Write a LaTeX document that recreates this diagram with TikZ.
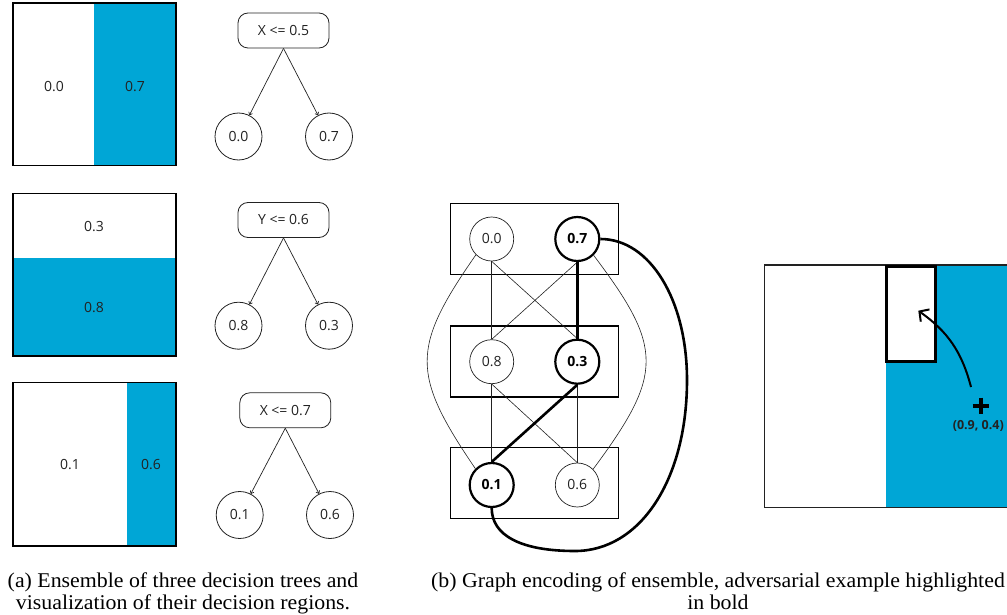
\documentclass[tikz,border=0pt]{standalone}
\usepackage{fontspec}
\setmainfont{Open Sans}
\newfontfamily\capfont[FakeStretch=1.04]{Liberation Serif}
\usetikzlibrary{arrows.meta}
\definecolor{regblue}{HTML}{00A6D6}
\definecolor{ink}{HTML}{222222}

\begin{document}
\begin{tikzpicture}[x=1pt,y=-1pt,
  region/.style={draw=black, line width=1.6pt},
  lbl/.style={font=\fontsize{14}{16}\selectfont, text=ink, inner sep=0pt},
  splitbox/.style={draw=ink, line width=0.8pt, rounded corners=10pt,
    minimum width=91pt, minimum height=35pt, inner sep=0pt,
    font=\fontsize{14}{16}\selectfont, text=ink},
  leaf/.style={circle, draw=ink, line width=0.8pt, minimum size=47pt,
    inner sep=0pt, font=\fontsize{14}{16}\selectfont, text=ink},
  branch/.style={draw=ink, line width=0.7pt, -{To[length=3pt,width=4.5pt]}},
  gnode/.style={circle, draw=ink, line width=0.7pt, minimum size=44pt,
    inner sep=0pt, font=\fontsize{14}{16}\selectfont, text=ink},
  hot/.style={draw=black, line width=2.2pt,
    font=\fontsize{14}{16}\selectfont\bfseries, text=black},
  treegroup/.style={draw=black, line width=1.3pt, minimum width=167.6pt,
    minimum height=71pt, inner sep=0pt},
  edgethin/.style={draw=ink, line width=0.6pt},
  edgebold/.style={draw=black, line width=2.6pt},
  caption/.style={font=\capfont\fontsize{21}{23}\selectfont, anchor=base,
    inner sep=0pt, text=black},
]
\useasboundingbox (0,0) rectangle (1007,615);

% ---------- decision regions of the three trees ----------
\fill[regblue] (94,3.3) rectangle (175.7,165.7);
\draw[region] (12.7,3.3) rectangle (175.7,165.7);
\node[lbl] (r1a) at (54,87) {0.0};
\node[lbl] (r1b) at (135,87) {0.7};

\fill[regblue] (12.7,257.7) rectangle (175.7,355.7);
\draw[region] (12.7,193.3) rectangle (175.7,355.7);
\node[lbl] (r2a) at (94,227) {0.3};
\node[lbl] (r2b) at (94,307.7) {0.8};

\fill[regblue] (127,382.3) rectangle (175.7,545.7);
\draw[region] (12.7,382.3) rectangle (175.7,545.7);
\node[lbl] (r3a) at (70,465) {0.1};
\node[lbl] (r3b) at (151,465) {0.6};

% ---------- the three trees ----------
\node[splitbox] (t1) at (283.5,30.5) {X <= 0.5};
\node[leaf] (t1l) at (238.5,136.5) {0.0};
\node[leaf] (t1r) at (329,136.5) {0.7};
\draw[branch] (t1.south) -- (t1l);
\draw[branch] (t1.south) -- (t1r);

\node[splitbox] (t2) at (283.5,220) {Y <= 0.6};
\node[leaf] (t2l) at (238.5,325.7) {0.8};
\node[leaf] (t2r) at (329,325.7) {0.3};
\draw[branch] (t2.south) -- (t2l);
\draw[branch] (t2.south) -- (t2r);

\node[splitbox] (t3) at (285.3,410.3) {X <= 0.7};
\node[leaf] (t3l) at (239.7,515) {0.1};
\node[leaf] (t3r) at (330,515) {0.6};
\draw[branch] (t3.south) -- (t3l);
\draw[branch] (t3.south) -- (t3r);

% ---------- graph encoding ----------
\node[treegroup] (g1) at (534.5,238.7) {};
\node[treegroup] (g2) at (534.5,361.5) {};
\node[treegroup] (g3) at (534.5,483.3) {};

\node[gnode] (a0) at (491.7,239) {0.0};
\node[gnode,hot] (a7) at (577.3,239) {0.7};
\node[gnode] (b8) at (491.7,361.7) {0.8};
\node[gnode,hot] (b3) at (577.3,361.7) {0.3};
\node[gnode,hot] (c1) at (491.7,485) {0.1};
\node[gnode] (c6) at (577.3,485) {0.6};

\draw[edgethin] (a0.south) -- (b8.north);
\draw[edgethin] (a0.south) -- (b3.north);
\draw[edgethin] (a7.south) -- (b8.north);
\draw[edgethin] (b8.south) -- (c1.north);
\draw[edgethin] (b8.south) -- (c6.north);
\draw[edgethin] (b3.south) -- (c6.north);
\draw[edgethin] (a0.south west) .. controls (411,348) and (411,374) .. (c1.north west);
\draw[edgethin] (a7.south east) .. controls (663.7,348) and (663.7,374) .. (c6.north east);

\draw[edgebold, line width=3.2pt] (a7.south) -- (b3.north);
\draw[edgebold] (b3.south) -- (c1.north);
\draw[edgebold] (a7.east) .. controls (650,239) and (687,300) .. (687,380)
  .. controls (687,480) and (640,551) .. (575,551)
  .. controls (520,551) and (491.7,535) .. (c1.south);

% ---------- adversarial example in the input space ----------
\begin{scope}
\clip (0,0) rectangle (1007,615);
\fill[regblue] (886,265) rectangle (1015,507.7);
\draw[draw=ink, line width=1.5pt] (764.3,265) rectangle (1015,507.7);
\draw[draw=black, line width=3pt, fill=white] (886.7,266.5) rectangle (935,361);
\end{scope}

\coordinate (adv) at (980.7,405.5);
\coordinate (advtail) at (971,387);
\coordinate (advhead) at (918.3,310.7);
\draw[line width=4pt] (972.7,405.5) -- (988.7,405.5);
\draw[line width=4pt] (980.7,397.5) -- (980.7,413.5);
\node[font=\fontsize{12.5}{14}\selectfont\bfseries, text=ink, inner sep=0pt]
  (advlbl) at (978.3,425.7) {(0.9, 0.4)};
\draw[line width=2pt, -{Straight Barb[length=7pt,width=15pt]}]
  (advtail) to[bend right=20] (advhead);

% ---------- captions ----------
\node[caption] (capa1) at (183,587.3) {(a) Ensemble of three decision trees and};
\node[caption] (capa2) at (183,609.3) {visualization of their decision regions.};
\node[caption] (capb1) at (718,587.3) {(b) Graph encoding of ensemble, adversarial example highlighted};
\node[caption] (capb2) at (718,609.3) {in bold};
\end{tikzpicture}
\end{document}
